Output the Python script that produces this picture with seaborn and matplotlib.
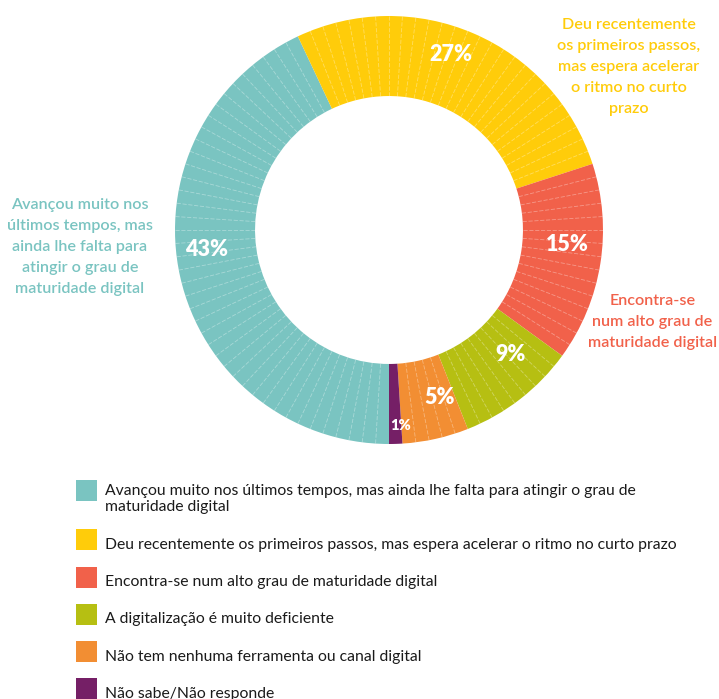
import numpy as np
import matplotlib
matplotlib.use("Agg")
import matplotlib.pyplot as plt
from matplotlib.patches import Rectangle
import seaborn as sns

# ---- data -------------------------------------------------------------
categories = [
    "Avançou muito nos últimos tempos, mas ainda lhe falta para atingir o grau de\nmaturidade digital",
    "Deu recentemente os primeiros passos, mas espera acelerar o ritmo no curto prazo",
    "Encontra-se num alto grau de maturidade digital",
    "A digitalização é muito deficiente",
    "Não tem nenhuma ferramenta ou canal digital",
    "Não sabe/Não responde",
]
shares = [43, 27, 15, 9, 5, 1]
pct_labels = ["43%", "27%", "15%", "9%", "5%", "1%"]
callouts = [
    "Avançou muito nos\núltimos tempos, mas\nainda lhe falta para\natingir o grau de\nmaturidade digital",
    "Deu recentemente\nos primeiros passos,\nmas espera acelerar\no ritmo no curto\nprazo",
    "Encontra-se\nnum alto grau de\nmaturidade digital",
]

# ---- style ------------------------------------------------------------
sns.set_theme(style="white")
plt.rcParams["font.family"] = ["Lato", "DejaVu Sans"]
palette = sns.color_palette(["#7AC4C1", "#FFCC0A", "#F1614A", "#B6BF12", "#F28E33", "#751F66"])

# label placement around the ring (angle shift in degrees clockwise, radius)
pct_shift = [6.6, -3.9, -4.5, -6.5, -4.3, -1.6]
pct_radius = [0.857, 0.871, 0.836, 0.81, 0.818, 0.913]
pct_size = [15.5, 15.5, 15.5, 15.5, 15.5, 10.5]
# anchor of the last line's baseline of each callout (axes data units)
callout_xy = [(-1.444, -0.293), (1.121, 0.548), (1.231, -0.546)]

W, H = 719, 699
fig = plt.figure(figsize=(W / 100, H / 100), dpi=100)
fig.patch.set_facecolor("white")

# ---- donut ------------------------------------------------------------
R_IN = 0.626
ax = fig.add_axes([175 / W, (H - 444) / H, 428 / W, 428 / H])
ax.pie(shares, colors=palette, startangle=-90, counterclock=False, radius=1.0,
       wedgeprops=dict(width=1 - R_IN, linewidth=0))
ax.set_xlim(-1, 1)
ax.set_ylim(-1, 1)
ax.set_aspect("equal")
ax.axis("off")

total = float(sum(shares))
starts = np.concatenate([[0], np.cumsum(shares)[:-1]])

# faint dividers for every percentage point inside each segment
for s, n in zip(starts, shares):
    for k in range(1, n):
        theta = np.deg2rad(180 + 360 * (s + k) / total)  # clockwise from top
        xs = [R_IN * np.sin(theta), np.sin(theta)]
        ys = [R_IN * np.cos(theta), np.cos(theta)]
        ax.plot(xs, ys, color="white", lw=0.6, alpha=0.35,
                linestyle=(0, (5, 2)), solid_capstyle="butt")

# percentage labels
for i, (s, n) in enumerate(zip(starts, shares)):
    theta = np.deg2rad(180 + 360 * (s + n / 2) / total + pct_shift[i])
    r = pct_radius[i]
    ax.text(r * np.sin(theta), r * np.cos(theta), pct_labels[i],
            ha="center", va="center", color="white",
            fontsize=pct_size[i], fontweight="heavy")

# callout texts beside the ring
for i, txt in enumerate(callouts):
    x, y = callout_xy[i]
    ax.text(x, y, txt, ha="center", va="baseline", multialignment="center",
            color=palette[i], fontsize=11.6, fontweight="semibold",
            linespacing=1.64)

# ---- legend -----------------------------------------------------------
lg = fig.add_axes([0, 0, 1, 1], zorder=-1)
lg.set_xlim(0, W)
lg.set_ylim(H, 0)
lg.axis("off")
row_tops = [480, 529.3, 566.5, 603.8, 641, 678.3]
for i, label in enumerate(categories):
    top = row_tops[i]
    lg.add_patch(Rectangle((76, top), 21, 21, facecolor=palette[i], edgecolor="none"))
    base = top + (30.7 if "\n" in label else 19.5)
    lg.text(105, base, label, ha="left", va="baseline", color="#1a1a1a",
            fontsize=11.3, linespacing=1.13)

fig.savefig("out.png", dpi=100, facecolor="white")
